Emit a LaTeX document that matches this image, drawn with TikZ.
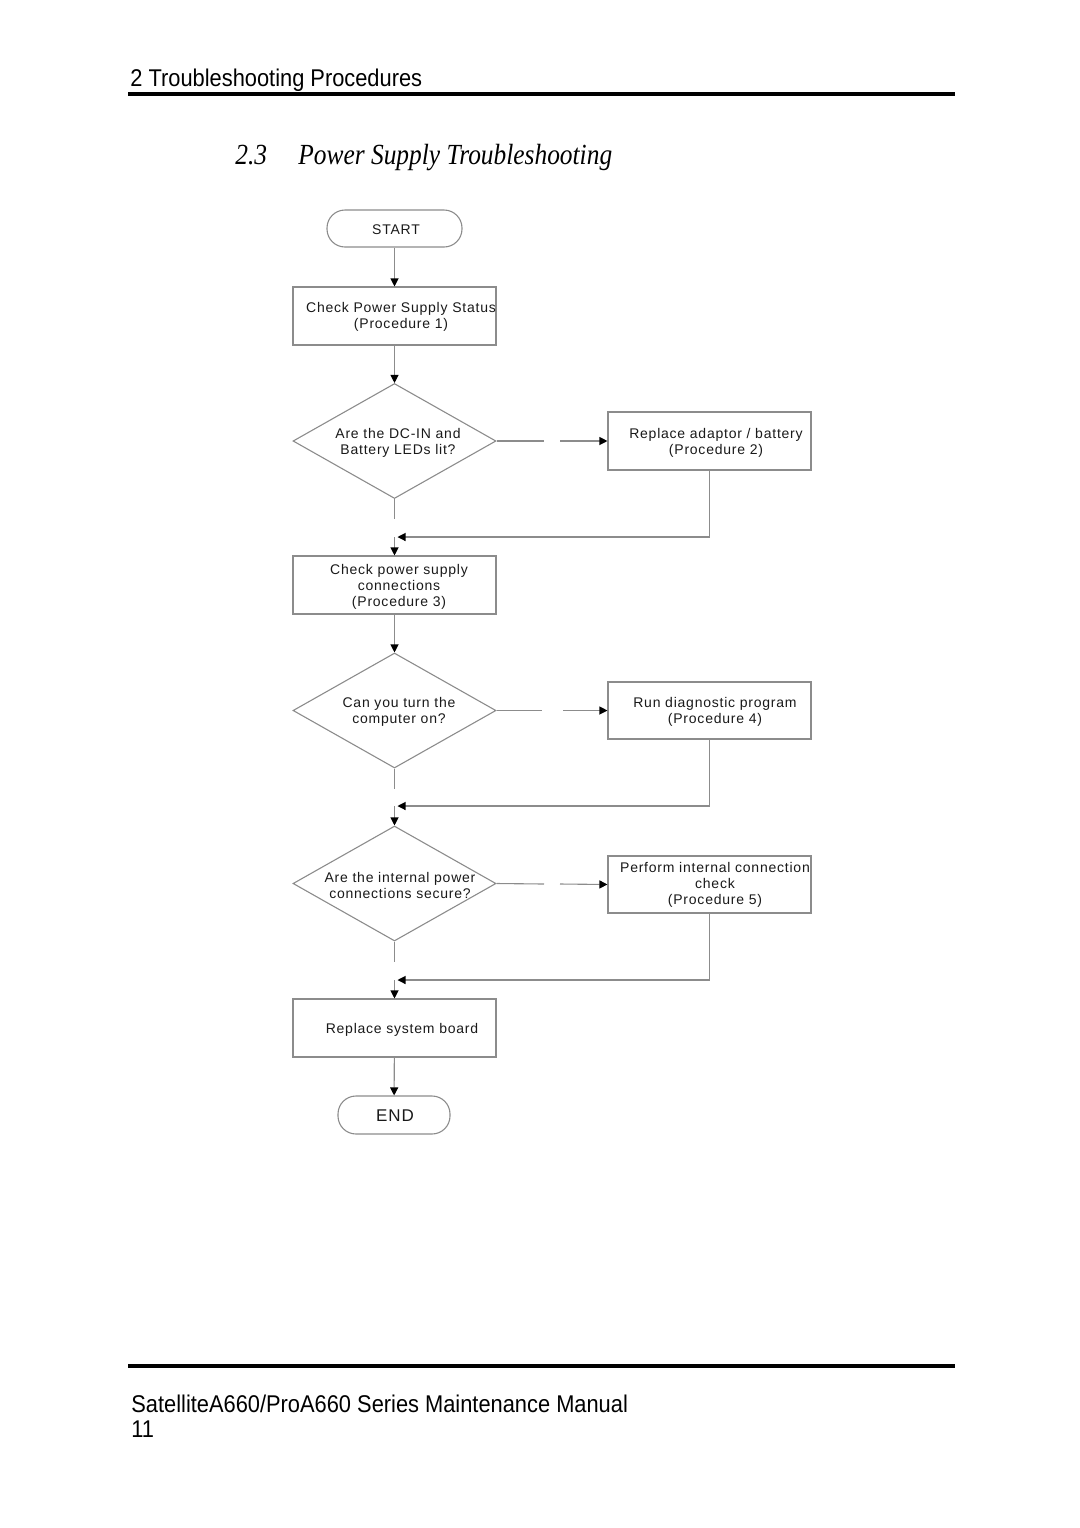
\documentclass[tikz,border=0pt]{standalone}
\usepackage{fontspec}
\setmainfont{Liberation Sans}
\newfontfamily\flowfont[LetterSpace=5.5]{Liberation Sans}
\newfontfamily\headfont[FakeStretch=0.9025]{Liberation Sans}
\newfontfamily\titlefont[FakeStretch=0.87]{Liberation Serif}
\usetikzlibrary{shapes.geometric,arrows.meta}
\begin{document}
\begin{tikzpicture}[x=0.5pt,y=-0.5pt,
 boxn/.style={draw=black!45, line width=0.55pt, rectangle, minimum width=101.5pt, minimum height=29pt, inner sep=0pt},
 decn/.style={draw=black!45, line width=0.55pt, diamond, minimum width=101.5pt, minimum height=57.5pt, inner sep=0pt},
 termn/.style={draw=black!45, line width=0.55pt, rectangle, rounded corners=9pt, inner sep=0pt},
 txt/.style={font=\flowfont\fontsize{7pt}{8pt}\selectfont, align=center, inner sep=0pt, text=black!90},
 conn/.style={draw=black!45, line width=0.55pt},
 arr/.style={conn, -{Triangle[length=4pt,width=4pt,color=black]}},
 rulel/.style={draw=black},
]
\useasboundingbox (0,0) rectangle (1080,1528);

% header and footer
\node[anchor=base west, inner sep=0pt, font=\headfont\fontsize{12.1pt}{14pt}\selectfont] (hdr) at (130,86) {2 Troubleshooting Procedures};
\coordinate (r1a) at (128,94); \coordinate (r1b) at (955,94);
\draw[rulel, line width=2pt] (r1a) -- (r1b);
\node[anchor=base west, inner sep=0pt, font=\titlefont\itshape\fontsize{14.6pt}{16pt}\selectfont] (secnum) at (235,164) {2.3};
\node[anchor=base west, inner sep=0pt, font=\titlefont\itshape\fontsize{14.6pt}{16pt}\selectfont] (sectitle) at (298,164) {Power Supply Troubleshooting};
\coordinate (r2a) at (128,1366); \coordinate (r2b) at (955,1366);
\draw[rulel, line width=1.75pt] (r2a) -- (r2b);
\node[anchor=base west, inner sep=0pt, font=\headfont\fontsize{12.1pt}{14pt}\selectfont] (ftr) at (131,1412) {SatelliteA660/ProA660 Series Maintenance Manual};
\node[anchor=base west, inner sep=0pt, font=\headfont\fontsize{12.1pt}{14pt}\selectfont] (pg) at (131,1437) {11};

% shapes
\node[termn, minimum width=67.5pt, minimum height=18.5pt] (start) at (394.5,228.5) {};
\node[txt] (tstart) at (396,230) {START};
\node[boxn] (b1) at (394.5,316) {};
\node[txt] (t1) at (401,317) {Check Power Supply Status\\(Procedure 1)};
\node[decn] (d1) at (394.5,441) {};
\node[txt] (td1) at (398,443) {Are the DC-IN and\\Battery LEDs lit?};
\node[boxn] (b2) at (709.5,441) {};
\node[txt] (t2) at (716,443) {Replace adaptor / battery\\(Procedure 2)};
\node[boxn] (b3) at (394.5,585) {};
\node[txt] (t3) at (399,587) {Check power supply\\connections\\(Procedure 3)};
\node[decn] (d2) at (394.5,710.5) {};
\node[txt] (td2) at (399,712) {Can you turn the\\computer on?};
\node[boxn, minimum height=28.5pt] (b4) at (709.5,710.5) {};
\node[txt] (t4) at (715,712) {Run diagnostic program\\(Procedure 4)};
\node[decn] (d3) at (394.5,883.5) {};
\node[txt] (td3) at (400,885) {Are the internal power\\connections secure?};
\node[boxn, minimum height=28.5pt] (b5) at (709.5,884.5) {};
\node[txt] (t5) at (715,885) {Perform internal connection\\check\\(Procedure 5)};
\node[boxn] (b6) at (394.5,1028) {};
\node[txt] (t6) at (402,1030) {Replace system board};
\node[termn, minimum width=56pt, minimum height=19pt] (end) at (394,1115) {};
\node[txt, font=\flowfont\fontsize{8.5pt}{10pt}\selectfont] (tend) at (395,1116) {END};

% helper coordinates
\coordinate (g1a) at (544,441); \coordinate (g1b) at (560,441);
\coordinate (g2a) at (542,710.5); \coordinate (g2b) at (563,710.5);
\coordinate (g3a) at (544,884); \coordinate (g3b) at (560,884);
\coordinate (e1) at (394.5,519); \coordinate (m1) at (394.5,537); \coordinate (m1r) at (397.5,537);
\coordinate (e2) at (394.5,789); \coordinate (m2) at (394.5,806); \coordinate (m2r) at (397.5,806);
\coordinate (e3) at (394.5,962); \coordinate (m3) at (394.5,980); \coordinate (m3r) at (397.5,980);

% connectors
\draw[arr] (start) -- (b1);
\draw[arr] (b1) -- (d1);
\draw[conn] (d1.east) -- (g1a);
\draw[arr] (g1b) -- (b2.west);
\draw[conn] (d1.south) -- (e1);
\draw[arr] (b2.south) |- (m1r);
\draw[arr] (m1) -- (b3.north);
\draw[arr] (b3) -- (d2);
\draw[conn] (d2.east) -- (g2a);
\draw[arr] (g2b) -- (b4.west);
\draw[conn] (d2.south) -- (e2);
\draw[arr] (b4.south) |- (m2r);
\draw[arr] (m2) -- (d3.north);
\draw[conn] (d3.east) -- (g3a);
\draw[arr] (g3b) -- (b5.west);
\draw[conn] (d3.south) -- (e3);
\draw[arr] (b5.south) |- (m3r);
\draw[arr] (m3) -- (b6.north);
\draw[arr] (b6) -- (end);
\end{tikzpicture}
\end{document}
